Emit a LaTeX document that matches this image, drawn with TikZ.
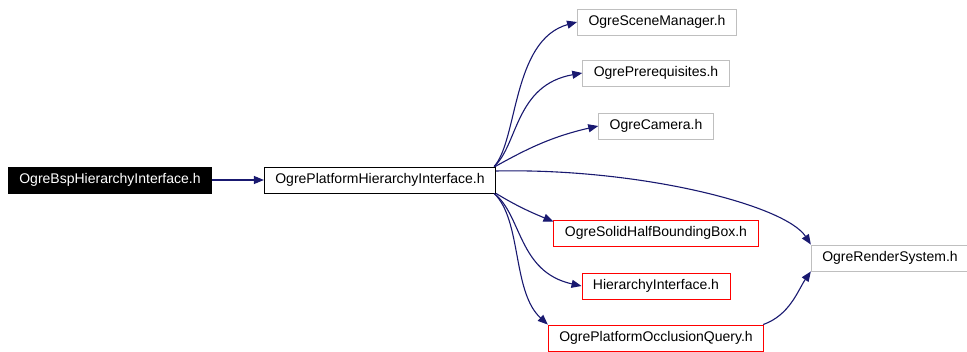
\documentclass[tikz,border=0pt]{standalone}
\usepackage{fontspec}
\setmainfont{Liberation Sans}
\usepackage{xcolor}
\usetikzlibrary{arrows.meta}
\definecolor{edgeblue}{HTML}{191970}
\definecolor{boxgray}{HTML}{BFBFBF}

\begin{document}
\begin{tikzpicture}[x=1pt, y=-1pt,
  filebox/.style={draw, line width=0.9pt, inner xsep=11pt, inner ysep=0pt,
    minimum height=26pt, font=\fontsize{14}{16}\selectfont},
  graybox/.style={filebox, draw=boxgray},
  redbox/.style={filebox, draw=red},
  dep/.style={edgeblue, line width=1.1pt, -{Triangle[length=10pt, width=8pt]}}]
\useasboundingbox (0,0) rectangle (967,352);

% Include source and the header it pulls in
\node[filebox, fill=black, text=white] (bsp) at (110,180) {OgreBspHierarchyInterface.h};
\node[filebox] (plat) at (380,180) {OgrePlatformHierarchyInterface.h};

% Headers above
\node[graybox] (scene) at (657,22) {OgreSceneManager.h};
\node[graybox] (prereq) at (656,73) {OgrePrerequisites.h};
\node[graybox] (camera) at (656,126) {OgreCamera.h};

% Headers below (documented ones in red)
\node[redbox] (solid) at (656,233) {OgreSolidHalfBoundingBox.h};
\node[redbox] (hier) at (656,286) {HierarchyInterface.h};
\node[redbox] (occl) at (656,338) {OgrePlatformOcclusionQuery.h};
\node[graybox] (render) at (890,258) {OgreRenderSystem.h};

% Dependencies
\draw[dep] (bsp) -- (plat);
\draw[dep] ([xshift=-2pt]plat.north east) .. controls (518,140) and (512,40) .. (scene.west);
\draw[dep] ([xshift=-2pt]plat.north east) .. controls (518,145) and (515,85) .. (prereq.west);
\draw[dep] ([xshift=-1pt]plat.north east) .. controls (525,150) and (550,137) .. (camera.west);
\draw[dep] ([yshift=9pt]plat.east) .. controls (640,168) and (785,205) .. (render.north west);
\draw[dep] (plat.south east) .. controls (515,205) and (530,212) .. ([yshift=-2pt]solid.north west);
\draw[dep] ([xshift=-2pt]plat.south east) .. controls (522,215) and (518,272) .. (hier.west);
\draw[dep] ([xshift=-2pt]plat.south east) .. controls (522,220) and (512,292) .. (occl.north west);
\draw[dep] ([xshift=-1pt]occl.north east) .. controls (790,315) and (798,290) .. (render.south west);

\end{tikzpicture}
\end{document}
